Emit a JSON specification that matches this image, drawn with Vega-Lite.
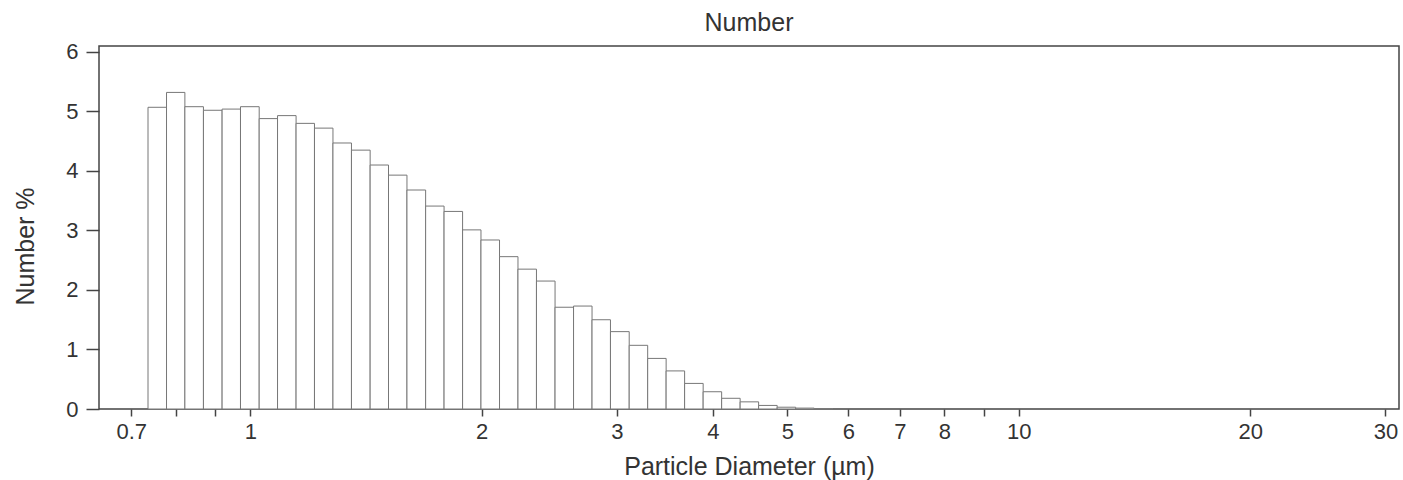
{
  "$schema": "https://vega.github.io/schema/vega-lite/v6.json",
  "autosize": {"type": "none"},
  "width": 1300,
  "height": 363,
  "padding": {"left": 99, "top": 46, "right": 4, "bottom": 71},
  "background": "white",
  "title": {"text": "Number", "fontSize": 25, "font": "Liberation Sans", "fontWeight": "normal", "color": "#333", "anchor": "middle", "offset": 5},
  "config": {
    "view": {"stroke": "#444", "strokeWidth": 1.5},
    "font": "Liberation Sans"
  },
  "data": {"values": [
    {"lo": 0.736, "hi": 0.778, "pct": 5.07},
    {"lo": 0.778, "hi": 0.822, "pct": 5.32},
    {"lo": 0.822, "hi": 0.869, "pct": 5.08},
    {"lo": 0.869, "hi": 0.919, "pct": 5.02},
    {"lo": 0.919, "hi": 0.971, "pct": 5.04},
    {"lo": 0.971, "hi": 1.027, "pct": 5.08},
    {"lo": 1.027, "hi": 1.085, "pct": 4.88},
    {"lo": 1.085, "hi": 1.147, "pct": 4.93},
    {"lo": 1.147, "hi": 1.212, "pct": 4.80},
    {"lo": 1.212, "hi": 1.281, "pct": 4.72},
    {"lo": 1.281, "hi": 1.354, "pct": 4.47},
    {"lo": 1.354, "hi": 1.432, "pct": 4.35},
    {"lo": 1.432, "hi": 1.513, "pct": 4.10},
    {"lo": 1.513, "hi": 1.599, "pct": 3.93},
    {"lo": 1.599, "hi": 1.691, "pct": 3.68},
    {"lo": 1.691, "hi": 1.787, "pct": 3.41},
    {"lo": 1.787, "hi": 1.889, "pct": 3.32},
    {"lo": 1.889, "hi": 1.996, "pct": 3.01},
    {"lo": 1.996, "hi": 2.110, "pct": 2.84},
    {"lo": 2.110, "hi": 2.230, "pct": 2.56},
    {"lo": 2.230, "hi": 2.357, "pct": 2.35},
    {"lo": 2.357, "hi": 2.492, "pct": 2.15},
    {"lo": 2.492, "hi": 2.634, "pct": 1.71},
    {"lo": 2.634, "hi": 2.784, "pct": 1.73},
    {"lo": 2.784, "hi": 2.942, "pct": 1.50},
    {"lo": 2.942, "hi": 3.112, "pct": 1.30},
    {"lo": 3.112, "hi": 3.289, "pct": 1.07},
    {"lo": 3.289, "hi": 3.476, "pct": 0.85},
    {"lo": 3.476, "hi": 3.674, "pct": 0.64},
    {"lo": 3.674, "hi": 3.884, "pct": 0.43},
    {"lo": 3.884, "hi": 4.105, "pct": 0.29},
    {"lo": 4.105, "hi": 4.339, "pct": 0.18},
    {"lo": 4.339, "hi": 4.586, "pct": 0.12},
    {"lo": 4.586, "hi": 4.848, "pct": 0.06},
    {"lo": 4.848, "hi": 5.124, "pct": 0.03},
    {"lo": 5.124, "hi": 5.416, "pct": 0.015},
    {"lo": 5.416, "hi": 5.724, "pct": 0.005}
  ]},
  "mark": {"type": "rect", "fill": "white", "stroke": "#777", "strokeWidth": 1},
  "encoding": {
    "x": {
      "field": "lo", "type": "quantitative",
      "scale": {"type": "log", "domain": [0.6355, 31.24], "nice": false, "zero": false},
      "axis": {
        "title": "Particle Diameter (µm)",
        "values": [0.7, 0.8, 0.9, 1, 2, 3, 4, 5, 6, 7, 8, 9, 10, 20, 30],
        "labelExpr": "datum.value == 0.8 || datum.value == 0.9 || datum.value == 9 ? '' : format(datum.value, '')",
        "grid": false, "domain": false,
        "tickSize": 7, "tickColor": "#444", "tickWidth": 1.5,
        "labelPadding": 5, "labelFontSize": 22, "labelColor": "#333", "labelFont": "Liberation Sans",
        "labelOverlap": false, "labelFlush": false,
        "titleFontSize": 25, "titleFontWeight": "normal", "titleColor": "#333", "titleFont": "Liberation Sans",
        "titleBaseline": "alphabetic", "titleY": 65
      }
    },
    "x2": {"field": "hi"},
    "y": {
      "field": "pct", "type": "quantitative",
      "scale": {"domain": [0, 6.1], "nice": false},
      "axis": {
        "title": "Number %",
        "values": [0, 1, 2, 3, 4, 5, 6],
        "grid": false, "domain": false,
        "tickSize": 13, "tickColor": "#444", "tickWidth": 1.5,
        "labelPadding": 8, "labelFontSize": 22, "labelColor": "#333", "labelFont": "Liberation Sans",
        "titleFontSize": 25, "titleFontWeight": "normal", "titleColor": "#333", "titleFont": "Liberation Sans",
        "titleAngle": -90, "titleBaseline": "middle", "titleX": -74, "titleY": 200
      }
    },
    "y2": {"datum": 0}
  }
}
